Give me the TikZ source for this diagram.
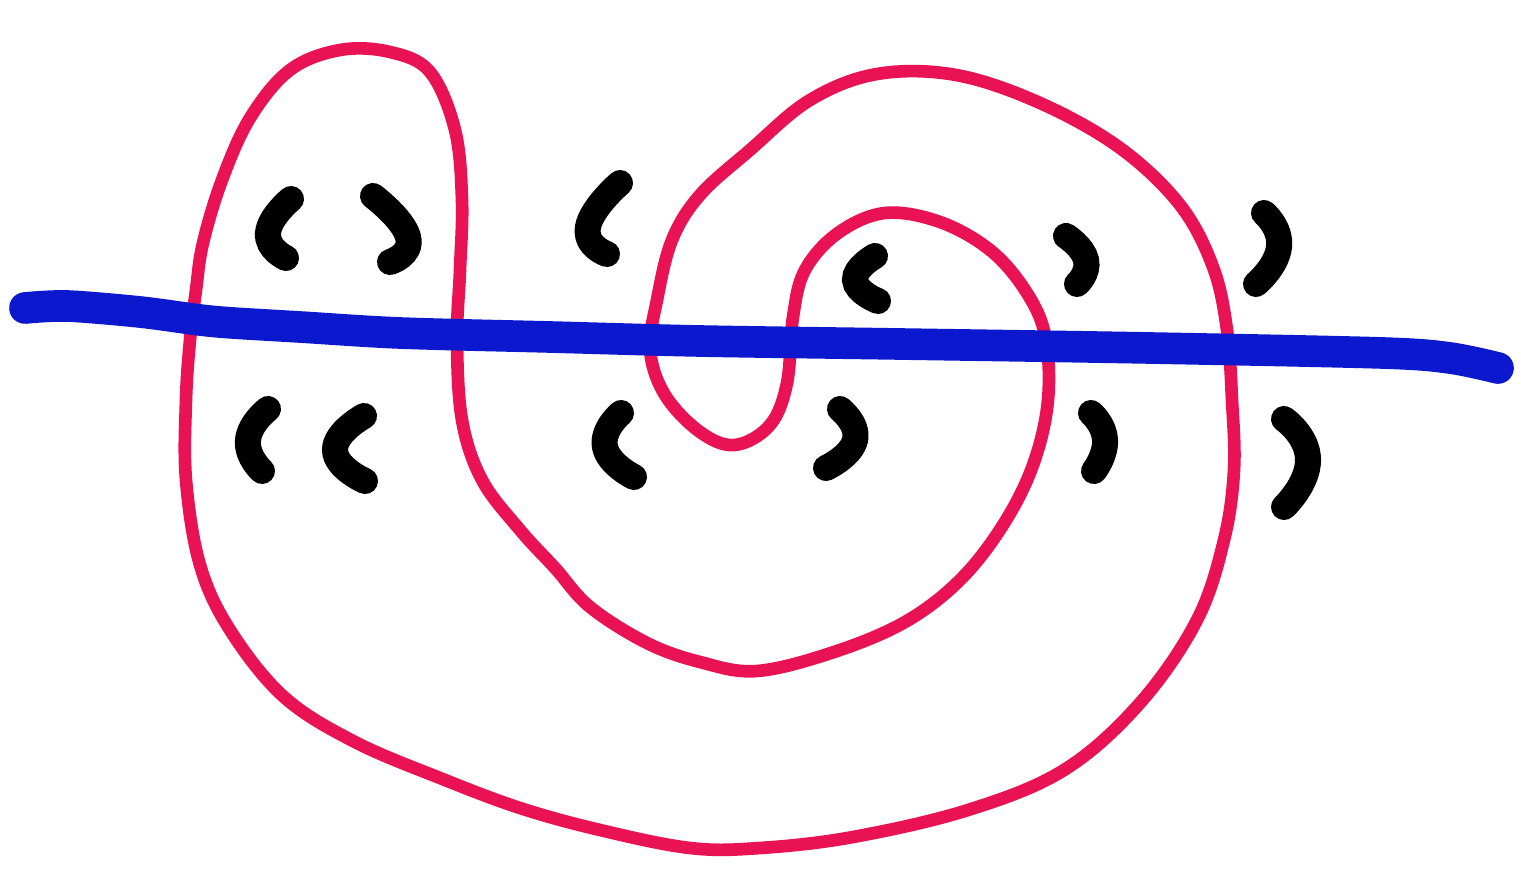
\documentclass[tikz,border=0pt]{standalone}
\definecolor{penred}{RGB}{232,18,84}
\definecolor{penblue}{RGB}{12,24,205}
\begin{document}
\begin{tikzpicture}[x=0.01cm,y=-0.01cm,
redline/.style={penred,line width=3.6pt,line cap=round,line join=round},
blueline/.style={penblue,line width=9pt,line cap=round},
arcmark/.style={black,line width=7.4pt,line cap=round}]
\useasboundingbox (0,0) rectangle (1521,882);
\draw[redline] plot[smooth cycle,tension=0.6] coordinates {
(203,243) (222,180) (250,118) (290,70) (340,50) (390,52) (430,72)
(455,130) (462,200) (460,270) (457,340) (462,420) (482,480) (520,530)
(555,568) (590,607) (647,643) (700,662) (757,671) (834,652) (905,622)
(960,580) (1003,525) (1033,465) (1048,400) (1045,335) (1025,290)
(990,250) (940,222) (885,213) (838,233) (805,270) (793,317) (787,383)
(770,425) (735,445) (700,432) (665,395) (650,350) (657,300) (672,240)
(700,195) (750,150) (810,100) (877,74) (956,75) (1040,103) (1120,148)
(1180,205) (1213,267) (1227,330) (1232,400) (1234,470) (1224,540)
(1197,620) (1140,703) (1064,770) (968,810) (853,837) (760,848)
(690,848) (600,830) (520,808) (440,778) (355,742) (284,697) (230,630)
(200,565) (186,480) (186,400) (190,340) (196,290)};
\draw[blueline] plot[smooth,tension=0.5] coordinates {
(25,308) (67,306) (140,312) (200,320) (233,323) (300,327) (400,333)
(550,337) (700,341) (900,344) (1150,348) (1383,353) (1450,358) (1498,368)};
\draw[arcmark] plot[smooth,tension=1] coordinates {(291,199) (268,233) (286,258)};
\draw[arcmark] plot[smooth,tension=1] coordinates {(373,196) (408,237) (390,262)};
\draw[arcmark] plot[smooth,tension=1] coordinates {(620,183) (588,227) (607,254)};
\draw[arcmark] plot[smooth,tension=1] coordinates {(875,256) (855,280) (878,301)};
\draw[arcmark] plot[smooth,tension=1] coordinates {(1066,236) (1086,260) (1077,284)};
\draw[arcmark] plot[smooth,tension=1] coordinates {(1264,213) (1279,247) (1256,284)};
\draw[arcmark] plot[smooth,tension=1] coordinates {(268,409) (248,440) (262,471)};
\draw[arcmark] plot[smooth,tension=1] coordinates {(364,416) (335,450) (365,481)};
\draw[arcmark] plot[smooth,tension=1] coordinates {(621,413) (605,447) (634,477)};
\draw[arcmark] plot[smooth,tension=1] coordinates {(840,409) (855,440) (826,468)};
\draw[arcmark] plot[smooth,tension=1] coordinates {(1091,413) (1105,440) (1094,471)};
\draw[arcmark] plot[smooth,tension=1] coordinates {(1284,419) (1308,460) (1284,507)};
\end{tikzpicture}
\end{document}
